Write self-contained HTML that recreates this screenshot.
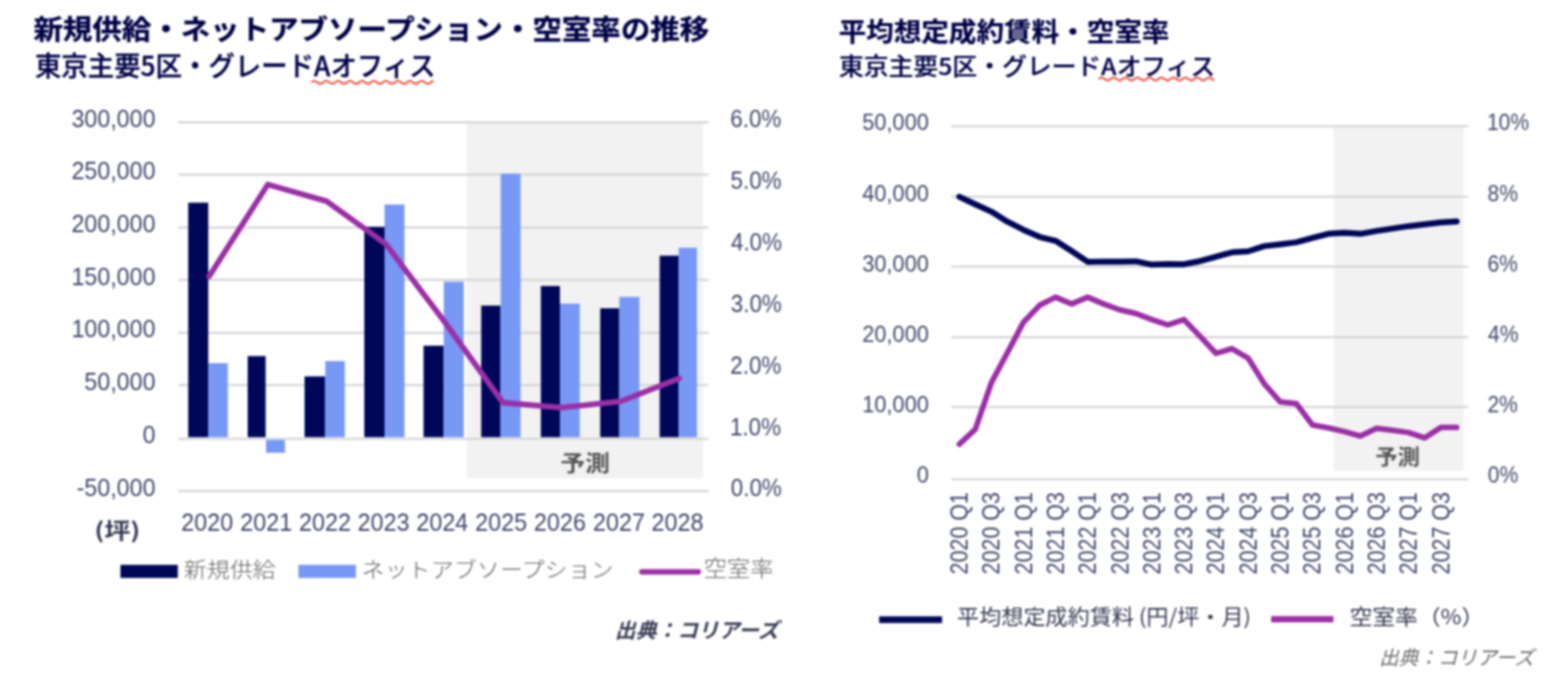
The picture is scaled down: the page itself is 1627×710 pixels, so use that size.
<!DOCTYPE html>
<html lang="ja"><head><meta charset="utf-8"><title>オフィス市況チャート</title>
<style>
html,body{margin:0;padding:0;background:#fff;}
body{width:1627px;height:710px;overflow:hidden;position:relative;}
svg{position:absolute;left:0;top:0;display:block;}
text.la{font-family:"Liberation Sans","Noto Sans CJK JP",sans-serif;}
text.jp{font-family:"Noto Sans CJK JP","Liberation Sans",sans-serif;}
</style></head><body>
<svg width="1627" height="710" viewBox="0 0 1627 710">
<rect x="0" y="0" width="1627" height="710" fill="#ffffff"/>
<defs><filter id="soft" filterUnits="userSpaceOnUse" x="0" y="0" width="1627" height="710" color-interpolation-filters="sRGB"><feGaussianBlur stdDeviation="0.80"/></filter></defs>
<g filter="url(#soft)">
<rect x="-10" y="-10" width="1647" height="730" fill="#ffffff"/>
<g id="left-chart">
<text class="jp" font-size="28.57" font-weight="700" fill="#000046" textLength="701.2" lengthAdjust="spacingAndGlyphs" x="34.7" y="41.1" stroke="#000046" stroke-width="0.3">新規供給・ネットアブソープション・空室率の推移</text>
<text class="jp" font-size="28.12" font-weight="500" fill="#000046" textLength="415.8" lengthAdjust="spacingAndGlyphs" x="36.2" y="79.0" stroke="#000046" stroke-width="0.3">東京主要5区・グレードAオフィス</text>
<path d="M323.0 85.5 Q326.1 82.7 329.2 85.5 Q332.3 88.3 335.4 85.5 Q338.5 82.7 341.6 85.5 Q344.7 88.3 347.8 85.5 Q350.9 82.7 354.0 85.5 Q357.1 88.3 360.2 85.5 Q363.3 82.7 366.4 85.5 Q369.5 88.3 372.6 85.5 Q375.7 82.7 378.8 85.5 Q381.9 88.3 385.0 85.5 Q388.1 82.7 391.2 85.5 Q394.3 88.3 397.4 85.5 Q400.5 82.7 403.6 85.5 Q406.7 88.3 409.8 85.5 Q412.9 82.7 416.0 85.5 Q419.1 88.3 422.2 85.5 Q425.3 82.7 428.4 85.5 Q431.5 88.3 434.6 85.5 Q437.7 82.7 440.8 85.5 Q443.9 88.3 447.0 85.5 Q448.2 82.7 449.5 85.5" fill="none" stroke="#F04A3A" stroke-width="1.9"/>
<rect x="484.5" y="127" width="245" height="369.5" fill="#F2F2F2"/>
<line x1="185.0" y1="127.0" x2="735.3" y2="127.0" stroke="#D2D2D2" stroke-width="2"/>
<line x1="185.0" y1="181.3" x2="735.3" y2="181.3" stroke="#D2D2D2" stroke-width="2"/>
<line x1="185.0" y1="236.3" x2="735.3" y2="236.3" stroke="#D2D2D2" stroke-width="2"/>
<line x1="185.0" y1="290.6" x2="735.3" y2="290.6" stroke="#D2D2D2" stroke-width="2"/>
<line x1="185.0" y1="345.4" x2="735.3" y2="345.4" stroke="#D2D2D2" stroke-width="2"/>
<line x1="185.0" y1="399.7" x2="735.3" y2="399.7" stroke="#D2D2D2" stroke-width="2"/>
<line x1="185.0" y1="509.7" x2="735.3" y2="509.7" stroke="#D2D2D2" stroke-width="2"/>
<rect x="195.3" y="210.4" width="20.8" height="243.4" fill="#000759"/>
<rect x="216.1" y="377.0" width="20.3" height="76.8" fill="#7898F5"/>
<rect x="257.0" y="369.6" width="18.6" height="84.2" fill="#000759"/>
<rect x="276.0" y="456.6" width="19.7" height="13.3" fill="#7898F5"/>
<rect x="316.0" y="390.7" width="21.5" height="63.1" fill="#000759"/>
<rect x="337.5" y="374.8" width="20.3" height="79.0" fill="#7898F5"/>
<rect x="378.0" y="235.5" width="21.0" height="218.3" fill="#000759"/>
<rect x="399.0" y="212.3" width="20.7" height="241.5" fill="#7898F5"/>
<rect x="439.5" y="358.8" width="21.0" height="95.0" fill="#000759"/>
<rect x="460.5" y="292.4" width="20.7" height="161.4" fill="#7898F5"/>
<rect x="499.3" y="317.2" width="20.2" height="136.6" fill="#000759"/>
<rect x="519.5" y="180.3" width="20.7" height="273.5" fill="#7898F5"/>
<rect x="561.2" y="296.9" width="19.8" height="156.9" fill="#000759"/>
<rect x="581.0" y="315.2" width="20.6" height="138.6" fill="#7898F5"/>
<rect x="622.8" y="320.0" width="19.8" height="133.8" fill="#000759"/>
<rect x="642.6" y="308.2" width="20.9" height="145.6" fill="#7898F5"/>
<rect x="684.5" y="265.4" width="19.7" height="188.4" fill="#000759"/>
<rect x="704.2" y="257.2" width="19.0" height="196.6" fill="#7898F5"/>
<line x1="185.0" y1="455.4" x2="735.3" y2="455.4" stroke="#D2D2D2" stroke-width="2"/>
<polyline points="216.9,287.0 277.9,191.5 338.9,208.9 399.9,252.8 460.9,333.5 521.9,418.0 582.9,423.1 643.9,416.6 704.9,392.7" fill="none" stroke="#9B2FA6" stroke-width="5.8" stroke-linejoin="round" stroke-linecap="round"/>
<text class="la" font-size="25.92" fill="#42476A" textLength="87.1" lengthAdjust="spacingAndGlyphs" x="74.2" y="131.7">300,000</text>
<text class="la" font-size="25.92" fill="#42476A" textLength="87.1" lengthAdjust="spacingAndGlyphs" x="74.2" y="186.4">250,000</text>
<text class="la" font-size="25.92" fill="#42476A" textLength="87.1" lengthAdjust="spacingAndGlyphs" x="74.2" y="241.0">200,000</text>
<text class="la" font-size="25.92" fill="#42476A" textLength="87.1" lengthAdjust="spacingAndGlyphs" x="74.2" y="295.7">150,000</text>
<text class="la" font-size="25.92" fill="#42476A" textLength="87.1" lengthAdjust="spacingAndGlyphs" x="74.2" y="350.4">100,000</text>
<text class="la" font-size="25.92" fill="#42476A" textLength="73.7" lengthAdjust="spacingAndGlyphs" x="87.6" y="405.1">50,000</text>
<text class="la" font-size="25.92" fill="#42476A" textLength="13.4" lengthAdjust="spacingAndGlyphs" x="147.9" y="459.7">0</text>
<text class="la" font-size="25.92" fill="#42476A" textLength="81.7" lengthAdjust="spacingAndGlyphs" x="79.6" y="515.4">-50,000</text>
<text class="la" font-size="25.63" fill="#42476A" textLength="52.9" lengthAdjust="spacingAndGlyphs" x="757.8" y="132.0">6.0%</text>
<text class="la" font-size="25.63" fill="#42476A" textLength="52.9" lengthAdjust="spacingAndGlyphs" x="758.1" y="195.9">5.0%</text>
<text class="la" font-size="25.63" fill="#42476A" textLength="52.9" lengthAdjust="spacingAndGlyphs" x="758.5" y="259.8">4.0%</text>
<text class="la" font-size="25.63" fill="#42476A" textLength="52.9" lengthAdjust="spacingAndGlyphs" x="758.3" y="323.7">3.0%</text>
<text class="la" font-size="25.63" fill="#42476A" textLength="52.9" lengthAdjust="spacingAndGlyphs" x="757.8" y="387.6">2.0%</text>
<text class="la" font-size="25.63" fill="#42476A" textLength="52.9" lengthAdjust="spacingAndGlyphs" x="757.4" y="451.5">1.0%</text>
<text class="la" font-size="25.63" fill="#42476A" textLength="52.9" lengthAdjust="spacingAndGlyphs" x="758.3" y="515.4">0.0%</text>
<text class="la" font-size="26.06" fill="#42476A" textLength="53.8" lengthAdjust="spacingAndGlyphs" x="188.1" y="550.5">2020</text>
<text class="la" font-size="26.06" fill="#42476A" textLength="53.8" lengthAdjust="spacingAndGlyphs" x="249.3" y="550.5">2021</text>
<text class="la" font-size="26.06" fill="#42476A" textLength="53.8" lengthAdjust="spacingAndGlyphs" x="310.3" y="550.5">2022</text>
<text class="la" font-size="26.06" fill="#42476A" textLength="53.8" lengthAdjust="spacingAndGlyphs" x="371.1" y="550.5">2023</text>
<text class="la" font-size="26.06" fill="#42476A" textLength="53.8" lengthAdjust="spacingAndGlyphs" x="432.0" y="550.5">2024</text>
<text class="la" font-size="26.06" fill="#42476A" textLength="53.8" lengthAdjust="spacingAndGlyphs" x="493.1" y="550.5">2025</text>
<text class="la" font-size="26.06" fill="#42476A" textLength="53.8" lengthAdjust="spacingAndGlyphs" x="554.1" y="550.5">2026</text>
<text class="la" font-size="26.06" fill="#42476A" textLength="53.8" lengthAdjust="spacingAndGlyphs" x="615.3" y="550.5">2027</text>
<text class="la" font-size="26.06" fill="#42476A" textLength="53.8" lengthAdjust="spacingAndGlyphs" x="676.1" y="550.5">2028</text>
<text class="jp" font-size="22.40" font-weight="700" fill="#34374F" textLength="47.6" lengthAdjust="spacingAndGlyphs" x="98.0" y="559.0">(坪)</text>
<text class="jp" font-size="22.81" font-weight="700" fill="#555555" textLength="51.2" lengthAdjust="spacingAndGlyphs" x="581.6" y="489.4">予測</text>
<rect x="125" y="586.3" width="59.5" height="13.6" fill="#000759"/>
<text class="jp" font-size="21.51" font-weight="300" fill="#626262" textLength="95.6" lengthAdjust="spacingAndGlyphs" x="190.6" y="599.1">新規供給</text>
<rect x="309.6" y="586.3" width="59.7" height="13.6" fill="#7898F5"/>
<text class="jp" font-size="21.51" font-weight="300" fill="#626262" textLength="261.4" lengthAdjust="spacingAndGlyphs" x="375.3" y="599.3">ネットアブソープション</text>
<line x1="666" y1="593.6" x2="724.6" y2="593.6" stroke="#9B2FA6" stroke-width="5.6" stroke-linecap="round"/>
<text class="jp" font-size="23.01" font-weight="300" fill="#626262" textLength="72.4" lengthAdjust="spacingAndGlyphs" x="730.2" y="598.3">空室率</text>
<text class="jp" font-size="21.56" font-weight="700" font-style="italic" fill="#3A3D55" x="638.1" y="662.4">出典：コリアーズ</text>
</g>
<g id="right-chart">
<text class="jp" font-size="26.73" font-weight="700" fill="#000046" textLength="343.3" lengthAdjust="spacingAndGlyphs" x="870.2" y="43.3" stroke="#000046" stroke-width="0.2">平均想定成約賃料・空室率</text>
<text class="jp" font-size="24.58" font-weight="500" fill="#000046" textLength="390.6" lengthAdjust="spacingAndGlyphs" x="870.5" y="77.6" stroke="#000046" stroke-width="0.2">東京主要5区・グレードAオフィス</text>
<path d="M1140.0 82.0 Q1143.1 79.2 1146.2 82.0 Q1149.3 84.8 1152.4 82.0 Q1155.5 79.2 1158.6 82.0 Q1161.7 84.8 1164.8 82.0 Q1167.9 79.2 1171.0 82.0 Q1174.1 84.8 1177.2 82.0 Q1180.3 79.2 1183.4 82.0 Q1186.5 84.8 1189.6 82.0 Q1192.7 79.2 1195.8 82.0 Q1198.9 84.8 1202.0 82.0 Q1205.1 79.2 1208.2 82.0 Q1211.3 84.8 1214.4 82.0 Q1217.5 79.2 1220.6 82.0 Q1223.7 84.8 1226.8 82.0 Q1229.9 79.2 1233.0 82.0 Q1236.1 84.8 1239.2 82.0 Q1242.3 79.2 1245.4 82.0 Q1248.5 84.8 1251.6 82.0 Q1254.7 79.2 1257.8 82.0 Q1258.7 84.8 1259.5 82.0" fill="none" stroke="#F04A3A" stroke-width="1.9"/>
<rect x="1383.8" y="131" width="134.8" height="357.8" fill="#F2F2F2"/>
<line x1="987.0" y1="131.1" x2="1523.3" y2="131.1" stroke="#D2D2D2" stroke-width="2"/>
<line x1="987.0" y1="204.3" x2="1523.3" y2="204.3" stroke="#D2D2D2" stroke-width="2"/>
<line x1="987.0" y1="276.7" x2="1523.3" y2="276.7" stroke="#D2D2D2" stroke-width="2"/>
<line x1="987.0" y1="350.0" x2="1523.3" y2="350.0" stroke="#D2D2D2" stroke-width="2"/>
<line x1="987.0" y1="422.4" x2="1523.3" y2="422.4" stroke="#D2D2D2" stroke-width="2"/>
<line x1="987.0" y1="497.5" x2="1523.3" y2="497.5" stroke="#D2D2D2" stroke-width="2"/>
<polyline points="995.4,204.2 1012.0,212.1 1028.7,219.7 1045.3,230.1 1062.0,238.6 1078.7,245.9 1095.3,249.9 1112.0,260.6 1128.6,271.8 1145.2,271.5 1161.9,271.7 1178.5,271.3 1195.2,274.7 1211.8,274.1 1228.5,274.3 1245.1,271.1 1261.8,266.4 1278.4,261.9 1295.1,260.9 1311.8,255.5 1328.4,253.6 1345.0,251.5 1361.7,247.1 1378.3,242.7 1395.0,241.7 1411.6,242.7 1428.3,239.8 1444.9,237.2 1461.6,234.8 1478.2,232.9 1494.9,230.9 1511.5,229.9" fill="none" stroke="#000759" stroke-width="6.2" stroke-linejoin="round" stroke-linecap="round"/>
<polyline points="995.4,461.1 1012.0,445.6 1028.7,397.2 1045.3,366.2 1062.0,334.4 1078.7,316.9 1095.3,308.5 1112.0,315.5 1128.6,308.5 1145.2,315.5 1161.9,321.6 1178.5,325.4 1195.2,331.7 1211.8,337.2 1228.5,331.7 1245.1,349.0 1261.8,366.8 1278.4,361.9 1295.1,371.7 1311.8,398.3 1328.4,417.1 1345.0,418.8 1361.7,441.1 1378.3,444.1 1395.0,448.0 1411.6,452.6 1428.3,444.7 1444.9,446.7 1461.6,449.0 1478.2,454.6 1494.9,443.7 1511.5,443.7" fill="none" stroke="#9B2FA6" stroke-width="5.8" stroke-linejoin="round" stroke-linecap="round"/>
<text class="la" font-size="23.66" fill="#42476A" textLength="69.1" lengthAdjust="spacingAndGlyphs" x="894.7" y="135.4">50,000</text>
<text class="la" font-size="23.66" fill="#42476A" textLength="69.1" lengthAdjust="spacingAndGlyphs" x="894.7" y="208.6">40,000</text>
<text class="la" font-size="23.66" fill="#42476A" textLength="69.1" lengthAdjust="spacingAndGlyphs" x="894.7" y="281.8">30,000</text>
<text class="la" font-size="23.66" fill="#42476A" textLength="69.1" lengthAdjust="spacingAndGlyphs" x="894.7" y="355.0">20,000</text>
<text class="la" font-size="23.66" fill="#42476A" textLength="69.1" lengthAdjust="spacingAndGlyphs" x="894.7" y="428.2">10,000</text>
<text class="la" font-size="23.66" fill="#42476A" textLength="12.6" lengthAdjust="spacingAndGlyphs" x="951.2" y="501.4">0</text>
<text class="la" font-size="24.23" fill="#42476A" textLength="43.6" lengthAdjust="spacingAndGlyphs" x="1543.0" y="135.4">10%</text>
<text class="la" font-size="24.23" fill="#42476A" textLength="31.5" lengthAdjust="spacingAndGlyphs" x="1543.6" y="208.6">8%</text>
<text class="la" font-size="24.23" fill="#42476A" textLength="31.5" lengthAdjust="spacingAndGlyphs" x="1543.4" y="281.8">6%</text>
<text class="la" font-size="24.23" fill="#42476A" textLength="31.5" lengthAdjust="spacingAndGlyphs" x="1544.1" y="355.0">4%</text>
<text class="la" font-size="24.23" fill="#42476A" textLength="31.5" lengthAdjust="spacingAndGlyphs" x="1543.4" y="428.2">2%</text>
<text class="la" font-size="24.23" fill="#42476A" textLength="31.5" lengthAdjust="spacingAndGlyphs" x="1543.8" y="501.4">0%</text>
<text class="la" font-size="25.35" fill="#42476A" textLength="85.3" lengthAdjust="spacingAndGlyphs" transform="translate(1004.0,596.2) rotate(-90)" x="0" y="0">2020 Q1</text>
<text class="la" font-size="25.35" fill="#42476A" textLength="85.3" lengthAdjust="spacingAndGlyphs" transform="translate(1037.3,596.2) rotate(-90)" x="0" y="0">2020 Q3</text>
<text class="la" font-size="25.35" fill="#42476A" textLength="85.3" lengthAdjust="spacingAndGlyphs" transform="translate(1070.6,596.2) rotate(-90)" x="0" y="0">2021 Q1</text>
<text class="la" font-size="25.35" fill="#42476A" textLength="85.3" lengthAdjust="spacingAndGlyphs" transform="translate(1103.9,596.2) rotate(-90)" x="0" y="0">2021 Q3</text>
<text class="la" font-size="25.35" fill="#42476A" textLength="85.3" lengthAdjust="spacingAndGlyphs" transform="translate(1137.2,596.2) rotate(-90)" x="0" y="0">2022 Q1</text>
<text class="la" font-size="25.35" fill="#42476A" textLength="85.3" lengthAdjust="spacingAndGlyphs" transform="translate(1170.5,596.2) rotate(-90)" x="0" y="0">2022 Q3</text>
<text class="la" font-size="25.35" fill="#42476A" textLength="85.3" lengthAdjust="spacingAndGlyphs" transform="translate(1203.8,596.2) rotate(-90)" x="0" y="0">2023 Q1</text>
<text class="la" font-size="25.35" fill="#42476A" textLength="85.3" lengthAdjust="spacingAndGlyphs" transform="translate(1237.1,596.2) rotate(-90)" x="0" y="0">2023 Q3</text>
<text class="la" font-size="25.35" fill="#42476A" textLength="85.3" lengthAdjust="spacingAndGlyphs" transform="translate(1270.4,596.2) rotate(-90)" x="0" y="0">2024 Q1</text>
<text class="la" font-size="25.35" fill="#42476A" textLength="85.3" lengthAdjust="spacingAndGlyphs" transform="translate(1303.7,596.2) rotate(-90)" x="0" y="0">2024 Q3</text>
<text class="la" font-size="25.35" fill="#42476A" textLength="85.3" lengthAdjust="spacingAndGlyphs" transform="translate(1337.0,596.2) rotate(-90)" x="0" y="0">2025 Q1</text>
<text class="la" font-size="25.35" fill="#42476A" textLength="85.3" lengthAdjust="spacingAndGlyphs" transform="translate(1370.3,596.2) rotate(-90)" x="0" y="0">2025 Q3</text>
<text class="la" font-size="25.35" fill="#42476A" textLength="85.3" lengthAdjust="spacingAndGlyphs" transform="translate(1403.6,596.2) rotate(-90)" x="0" y="0">2026 Q1</text>
<text class="la" font-size="25.35" fill="#42476A" textLength="85.3" lengthAdjust="spacingAndGlyphs" transform="translate(1436.9,596.2) rotate(-90)" x="0" y="0">2026 Q3</text>
<text class="la" font-size="25.35" fill="#42476A" textLength="85.3" lengthAdjust="spacingAndGlyphs" transform="translate(1470.2,596.2) rotate(-90)" x="0" y="0">2027 Q1</text>
<text class="la" font-size="25.35" fill="#42476A" textLength="85.3" lengthAdjust="spacingAndGlyphs" transform="translate(1503.5,596.2) rotate(-90)" x="0" y="0">2027 Q3</text>
<text class="jp" font-size="21.98" font-weight="700" fill="#555555" textLength="46.2" lengthAdjust="spacingAndGlyphs" x="1427.1" y="482.0">予測</text>
<line x1="912.2" y1="643.2" x2="977.5" y2="643.2" stroke="#000759" stroke-width="7"/>
<text class="jp" font-size="21.90" fill="#34374F" textLength="305.0" lengthAdjust="spacingAndGlyphs" x="993.1" y="647.6">平均想定成約賃料 (円/坪・月)</text>
<line x1="1319" y1="642.8" x2="1383.6" y2="642.8" stroke="#9B2FA6" stroke-width="6.6"/>
<text class="jp" font-size="21.90" fill="#34374F" textLength="139.7" lengthAdjust="spacingAndGlyphs" x="1400.4" y="647.6">空室率（%）</text>
<text class="jp" font-size="20.43" font-style="italic" fill="#6A6A6A" textLength="160.7" lengthAdjust="spacingAndGlyphs" x="1431.0" y="690.4">出典：コリアーズ</text>
</g>
</g>
</svg>
</body></html>
